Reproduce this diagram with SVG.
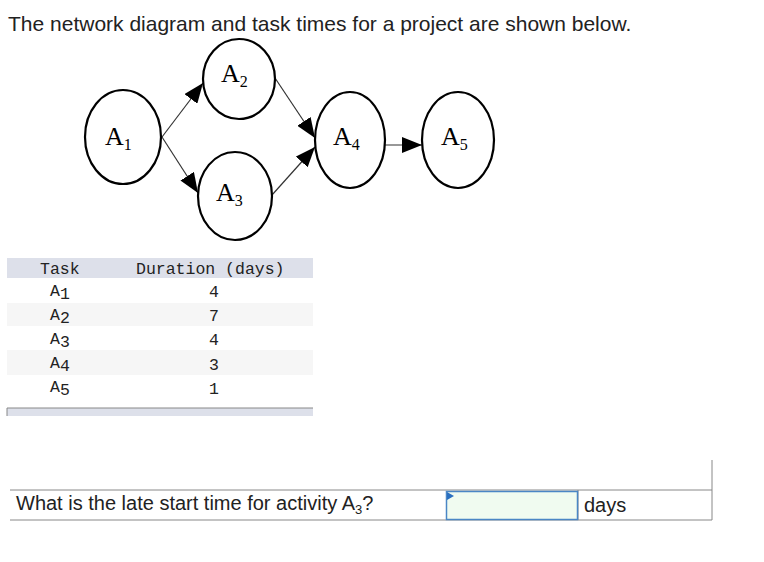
<svg xmlns="http://www.w3.org/2000/svg" width="764" height="562" viewBox="0 0 764 562">
<style>
.n{fill:#fff;stroke:#000;stroke-width:2.2}
.l{font-family:"Liberation Serif",serif;font-size:26px;fill:#000}
.s{font-size:16px}
.m{font-family:"Liberation Mono",monospace;font-size:16.5px;fill:#222}
.q{font-family:"Liberation Sans",Arial,sans-serif;fill:#222}
</style>
<defs>
<marker id="ab" viewBox="0 0 10 10" refX="10" refY="5" markerWidth="20" markerHeight="16" markerUnits="userSpaceOnUse" orient="auto" preserveAspectRatio="none"><path d="M0,0L10,5L0,10z" fill="#000"/></marker></defs>
<text x="8" y="31" class="q" font-size="21">The network diagram and task times for a project are shown below.</text>
<g id="connectors" stroke="#333" stroke-width="1.2" fill="none" marker-end="url(#ab)">
<line x1="162" y1="137" x2="203" y2="83"/>
<line x1="162" y1="137" x2="198" y2="193"/>
<line x1="275" y1="78" x2="315" y2="138"/>
<line x1="272" y1="195" x2="315" y2="147"/>
<line x1="385" y1="145" x2="422" y2="145"/>
</g>
<g id="A1"><ellipse class="n" cx="123" cy="137" rx="38" ry="47"/><text class="l" x="105" y="145">A<tspan class="s" dy="5">1</tspan></text></g>
<g id="A2"><ellipse class="n" cx="239" cy="79" rx="36" ry="40"/><text class="l" x="221" y="82">A<tspan class="s" dy="5">2</tspan></text></g>
<g id="A3"><ellipse class="n" cx="235" cy="196" rx="37" ry="44"/><text class="l" x="216" y="201">A<tspan class="s" dy="5">3</tspan></text></g>
<g id="A4"><ellipse class="n" cx="350" cy="140" rx="35" ry="48"/><text class="l" x="333" y="145">A<tspan class="s" dy="5">4</tspan></text></g>
<g id="A5"><ellipse class="n" cx="458" cy="140" rx="36" ry="48"/><text class="l" x="441" y="145">A<tspan class="s" dy="5">5</tspan></text></g>
<g id="table">
<rect x="7" y="258" width="306" height="20" fill="#dde0ea"/>
<rect x="7" y="303" width="306" height="23" fill="#f6f6f6"/>
<rect x="7" y="350" width="306" height="25" fill="#f6f6f6"/>
<rect x="7" y="408" width="306" height="8" fill="#dde0ea"/>
<line x1="7" y1="408" x2="313" y2="408" stroke="#888"/>
<line x1="7" y1="408" x2="7" y2="416" stroke="#888"/>
<text class="m" x="40" y="274">Task</text>
<text class="m" x="136" y="274">Duration (days)</text>
<g class="m" text-anchor="middle">
<text x="214" y="297">4</text><text x="214" y="321">7</text><text x="214" y="345">4</text><text x="214" y="370">3</text><text x="214" y="394">1</text>
</g>
<text class="m" x="50" y="296">A<tspan dy="3">1</tspan></text>
<text class="m" x="50" y="320">A<tspan dy="3">2</tspan></text>
<text class="m" x="50" y="344">A<tspan dy="3">3</tspan></text>
<text class="m" x="50" y="368">A<tspan dy="3">4</tspan></text>
<text class="m" x="50" y="392">A<tspan dy="3">5</tspan></text>
</g>
<g id="question">
<line x1="10" y1="490" x2="712" y2="490" stroke="#888"/>
<line x1="10" y1="520" x2="712" y2="520" stroke="#888"/>
<line x1="712" y1="460" x2="712" y2="520" stroke="#888"/>
<line x1="578" y1="490" x2="578" y2="520" stroke="#888"/>
<text class="q" x="16" y="510" font-size="20">What is the late start time for activity A<tspan font-size="13" dy="4">3</tspan><tspan dy="-4">?</tspan></text>
<rect x="446.5" y="491.5" width="131" height="28" fill="#f0fbf0" stroke="#4a86c5" stroke-width="1.5"/>
<path d="M447,492L454,496L447,500z" fill="#2a6fc0"/>
<text class="q" x="584" y="512" font-size="20">days</text>
</g>
</svg>
